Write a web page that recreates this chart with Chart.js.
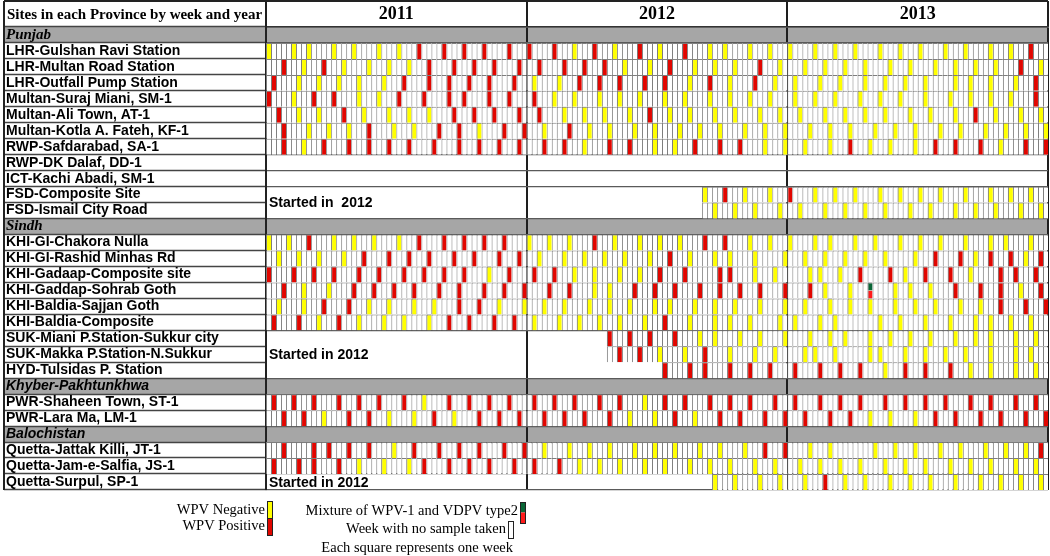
<!DOCTYPE html>
<html>
<head>
<meta charset="utf-8">
<title>Sites in each Province by week and year</title>
<script src="https://cdn.jsdelivr.net/npm/chart.js@4.4.1/dist/chart.umd.min.js"></script>
<style>
  html, body { margin: 0; padding: 0; background: #fff; }
  canvas { display: block; }
</style>
</head>
<body>
<canvas id="sitesChart" width="1050" height="556"></canvas>
<script>
const years = ['2011', '2012', '2013'];
const WEEKS = 52;
const weekLabels = years.flatMap(y => Array.from({ length: WEEKS }, (_, w) => y + '-W' + (w + 1)));

const sites = [
  'Punjab',
  'LHR-Gulshan Ravi Station',
  'LHR-Multan Road Station',
  'LHR-Outfall Pump Station',
  'Multan-Suraj Miani, SM-1',
  'Multan-Ali Town, AT-1',
  'Multan-Kotla A. Fateh, KF-1',
  'RWP-Safdarabad, SA-1',
  'RWP-DK Dalaf, DD-1',
  'ICT-Kachi Abadi, SM-1',
  'FSD-Composite Site',
  'FSD-Ismail City Road',
  'Sindh',
  'KHI-GI-Chakora Nulla',
  'KHI-GI-Rashid Minhas Rd',
  'KHI-Gadaap-Composite site',
  'KHI-Gaddap-Sohrab Goth',
  'KHI-Baldia-Sajjan Goth',
  'KHI-Baldia-Composite',
  'SUK-Miani P.Station-Sukkur city',
  'SUK-Makka P.Station-N.Sukkur',
  'HYD-Tulsidas P. Station',
  'Khyber-Pakhtunkhwa',
  'PWR-Shaheen Town, ST-1',
  'PWR-Lara Ma, LM-1',
  'Balochistan',
  'Quetta-Jattak Killi, JT-1',
  'Quetta-Jam-e-Salfia, JS-1',
  'Quetta-Surpul, SP-1'
];

const provinces = ['Punjab', 'Sindh', 'Khyber-Pakhtunkhwa', 'Balochistan'];

// first sampled week per row: [year index, week index], null = no grid
const sampleStart = [
  null,
  [0, 0], [0, 0], [0, 0], [0, 0], [0, 0], [0, 0], [0, 0],
  null, null,
  [1, 35], [1, 35],
  null,
  [0, 0], [0, 0], [0, 0], [0, 0], [0, 0], [0, 0],
  [1, 16], [1, 16], [1, 27],
  null,
  [0, 0], [0, 0],
  null,
  [0, 0], [0, 0], [1, 37]
];

// week indices (0 = first week of the year) per row, as [2011, 2012, 2013]
const negative = [
  null,
  [[0, 5, 8, 13, 17, 22, 26], [9, 17, 26, 36, 39, 44, 48], [0, 5, 9, 13, 18, 22, 26, 31, 35, 40, 44]],
  [[7, 15, 20, 24, 28], [19, 24, 33, 37, 41, 50], [3, 7, 11, 15, 20, 24, 29, 33, 37, 41, 50]],
  [[6, 10, 14, 18, 23], [1, 6, 32, 40, 49], [1, 6, 10, 15, 19, 23, 27, 33, 36, 40, 45]],
  [[5, 18, 22], [5, 9, 14, 18, 22, 27, 31, 36, 40, 44, 48], [1, 5, 9, 14, 18, 22, 27, 32, 36, 40, 44]],
  [[6, 10, 19, 24, 28, 32], [7, 11, 15, 20, 28, 32, 37, 41, 46, 50], [2, 7, 11, 15, 19, 24, 28, 33, 41, 46, 50]],
  [[8, 12, 16, 25, 29, 42], [3, 12, 16, 21, 25, 30, 34, 38, 43, 47, 51], [4, 8, 12, 17, 21, 25, 30, 34, 39, 43, 47, 51]],
  [[7], [11, 25, 29, 47, 51], [3, 8, 16, 20, 25, 42]],
  null,
  null,
  [[], [35, 43, 48], [5, 9, 13, 18, 22, 26, 30, 35, 40, 44, 48]],
  [[], [37, 41, 45, 50], [2, 7, 11, 15, 19, 24, 28, 33, 37, 41, 46, 50]],
  null,
  [[0, 4, 13, 17, 21, 26], [0, 4, 8, 17, 22, 26, 30, 44, 48], [0, 5, 8, 13, 17, 22, 26, 30, 35, 40, 43, 48]],
  [[2, 6, 10, 15], [2, 7, 11, 15, 19, 24, 32, 37, 40, 45, 51], [3, 7, 11, 15, 19, 25, 37, 47]],
  [[44], [9, 13, 18, 22, 45, 49], [4, 6, 10, 23, 36]],
  [[7, 12], [13, 16], [7, 12, 21, 24, 28, 46]],
  [[2, 7, 20, 24, 29, 33, 46, 51], [3, 7, 12, 16, 20, 25, 28, 33, 37, 41, 46, 51], [3, 8, 12, 16, 21, 25, 29, 34, 38]],
  [[10, 18, 23, 27, 32], [1, 6, 10, 14, 18, 23, 32, 37, 40, 44, 50], [1, 6, 9, 18, 22, 27, 32, 37, 40, 44, 48]],
  [[], [34, 37, 42, 46, 51], [4, 8, 11, 16, 20, 24, 28, 33, 37, 40, 45, 49]],
  [[], [26, 31, 40, 45, 49], [3, 5, 9, 16, 18, 23, 27, 31, 35, 40, 45, 48]],
  [[], [], [19, 36, 40, 45, 49]],
  null,
  [[31], [23], []],
  [[11, 24, 29, 37], [20, 25, 33], [16, 20, 25]],
  null,
  [[25], [3, 8, 12, 16, 21, 25, 29, 34, 38, 43], [4, 8, 17, 21, 25, 30, 34, 39, 43, 47]],
  [[18, 23, 28], [10, 14, 18, 23, 27, 32, 36, 40, 45, 49], [2, 6, 10, 14, 19, 23, 27, 32, 36, 40, 45, 49]],
  [[], [37, 41, 46, 50], [3, 11, 15, 20, 24, 28, 33, 38, 42, 46, 50]]
];

const positive = [
  null,
  [[30, 35, 39, 43, 48], [0, 5, 13, 22, 31], [48]],
  [[3, 11, 32, 37, 41, 45, 50], [2, 7, 11, 15, 28, 46], [46]],
  [[1, 27, 32, 36, 40, 44, 49], [10, 14, 18, 23, 27, 36, 45], [49]],
  [[0, 9, 13, 26, 31, 36, 39, 44, 48], [1], [49]],
  [[2, 15, 37, 41, 45, 50], [2, 24], [37]],
  [[3, 20, 34, 38, 47, 51], [8], []],
  [[3, 11, 16, 20, 24, 28, 33, 38, 42, 46, 50], [3, 7, 16, 20, 33, 38, 42], [12, 29, 33, 38, 47, 51]],
  null,
  null,
  [[], [39], [0]],
  [[], [], []],
  null,
  [[8, 30, 35, 39, 43, 47], [13, 35, 39], []],
  [[19, 24, 28, 32, 37, 41, 46, 50], [28], [29, 34, 40, 44, 50]],
  [[0, 5, 9, 13, 18, 22, 27, 31, 35, 39, 48], [1, 5, 26, 31, 38, 40], [14, 20, 27, 32, 42, 45, 49]],
  [[3, 17, 21, 25, 29, 34, 38, 43, 47, 51], [4, 8, 21, 25, 29, 34, 38, 42, 46, 51], [4, 33, 38, 42, 50]],
  [[11, 16, 38, 42], [], [42, 47, 51]],
  [[1, 6, 14, 36, 40, 45, 49], [27], []],
  [[], [16, 20, 24, 29], []],
  [[], [18, 22, 35], []],
  [[], [27, 32, 35, 40, 44, 48], [1, 6, 10, 14, 23, 27, 32]],
  null,
  [[1, 5, 9, 14, 18, 22, 27, 36, 40, 44, 48], [1, 5, 9, 14, 18, 27, 31, 36, 40, 44, 49], [1, 6, 10, 14, 19, 23, 27, 31, 36, 40, 45, 49]],
  [[3, 7, 16, 20, 33, 42, 46, 50], [3, 7, 11, 16, 29, 38, 42, 47, 51], [3, 8, 12, 29, 33, 38, 42, 47, 51]],
  null,
  [[3, 9, 12, 16, 20, 29, 34, 38, 42, 47, 51], [47, 51], [50]],
  [[1, 6, 9, 14, 31, 36, 40, 44, 49], [1, 6], []],
  [[], [], [7]]
];

// [row, year index, week index]
const mixed = [[16, 2, 16]];

// merged "not started" cells: [text, first row, last row]
const startedNotes = [
  ['Started in  2012', 10, 11],
  ['Started in 2012', 19, 21],
  ['Started in 2012', 28, 28]
];

// row boundaries that carry a full-width rule
const ruledBoundaries = [0, 1, 8, 9, 10, 12, 13, 19, 22, 23, 25, 26, 28, 29];

const weekOf = (yi, w) => weekLabels[yi * WEEKS + w];

function collect(table) {
  const out = [];
  table.forEach((perYear, r) => {
    if (!perYear) return;
    perYear.forEach((weeks, yi) => weeks.forEach(w => out.push({ x: weekOf(yi, w), y: [r, r + 1] })));
  });
  return out;
}

const blankCells = [];
sampleStart.forEach((s, r) => {
  if (!s) return;
  for (let i = s[0] * WEEKS + s[1]; i < weekLabels.length; i++) {
    blankCells.push({ x: weekLabels[i], y: [r, r + 1] });
  }
});

const COLORS = {
  none: '#ffffff',
  neg: '#ffff00',
  pos: '#e10600',
  mixTop: '#0a6636',
  mixBottom: '#ff1a1a',
  line: '#7d7d7d',
  band: '#a6a6a6'
};

// order: higher numbers are painted first, so the blank grid sits underneath
function cells(label, data, fill, order, border) {
  return {
    label, data, order,
    backgroundColor: fill,
    borderColor: COLORS.line,
    borderWidth: border || { top: 1, left: 1, right: 0, bottom: 0 },
    borderSkipped: false,
    inflateAmount: 0,
    grouped: false,
    barPercentage: 1,
    categoryPercentage: 1
  };
}

const datasets = [
  cells('Week with no sample taken', blankCells, COLORS.none, 5),
  cells('WPV Negative', collect(negative), COLORS.neg, 2),
  cells('WPV Positive', collect(positive), COLORS.pos, 2),
  cells('Mixture of WPV-1 and VDPV type2',
    mixed.map(([r, yi, w]) => ({ x: weekOf(yi, w), y: [r, r + 0.5] })), COLORS.mixTop, 1),
  cells('Mixture of WPV-1 and VDPV type2',
    mixed.map(([r, yi, w]) => ({ x: weekOf(yi, w), y: [r + 0.5, r + 1] })), COLORS.mixBottom, 1,
    { top: 0, left: 1, right: 0, bottom: 0 })
];

function swatch(ctx, x, y, w, h, fills) {
  const part = h / fills.length;
  fills.forEach((f, i) => {
    ctx.fillStyle = f;
    ctx.fillRect(x, y + i * part, w, part);
  });
  ctx.strokeStyle = '#222';
  ctx.lineWidth = 1;
  ctx.strokeRect(x + 0.5, y + 0.5, w, h);
}

const tableFrame = {
  id: 'tableFrame',
  beforeDraw(chart) {
    const { ctx, chartArea, scales: { y } } = chart;
    ctx.save();
    ctx.fillStyle = '#fff';
    ctx.fillRect(0, 0, chart.width, chart.height);
    ctx.fillStyle = COLORS.band;
    sites.forEach((s, r) => {
      if (!provinces.includes(s)) return;
      const top = y.getPixelForValue(r);
      const bottom = y.getPixelForValue(r + 1);
      ctx.fillRect(4, top, chartArea.right - 4, bottom - top);
    });
    ctx.restore();
  },
  afterDatasetsDraw(chart) {
    const { ctx, chartArea, scales: { y } } = chart;
    ctx.save();
    ctx.font = 'bold 14px "Liberation Sans"';
    ctx.fillStyle = '#000';
    ctx.textAlign = 'left';
    ctx.textBaseline = 'middle';
    startedNotes.forEach(([text, first, last]) => {
      const mid = (y.getPixelForValue(first) + y.getPixelForValue(last + 1)) / 2;
      ctx.fillText(text, chartArea.left + 3, mid + 1);
    });
    ctx.restore();
  },
  afterDraw(chart) {
    const { ctx, chartArea } = chart;
    const ds = chart.data.datasets;
    ctx.save();
    // outer frame: top and left edges
    ctx.strokeStyle = '#222';
    ctx.lineWidth = 2;
    ctx.beginPath();
    ctx.moveTo(4, 1);
    ctx.lineTo(chartArea.right, 1);
    ctx.moveTo(4, 1);
    ctx.lineTo(4, chartArea.bottom);
    ctx.stroke();

    ctx.fillStyle = '#000';
    ctx.textBaseline = 'middle';
    ctx.textAlign = 'left';
    ctx.font = 'bold 15px "Liberation Serif"';
    ctx.fillText('Sites in each Province by week and year', 7, 15);

    // legend
    ctx.font = '14.5px "Liberation Serif"';
    ctx.textAlign = 'right';
    ctx.fillStyle = '#000';
    ctx.fillText(ds[1].label, 265, 510);
    ctx.fillText(ds[2].label, 265, 526);
    ctx.fillText(ds[3].label, 518, 511);
    ctx.fillText(ds[0].label, 506, 529);
    ctx.fillText('Each square represents one week', 513, 548);
    swatch(ctx, 267, 501, 5, 17, [ds[1].backgroundColor]);
    swatch(ctx, 267, 518, 5, 17, [ds[2].backgroundColor]);
    swatch(ctx, 520, 502, 5, 21, [ds[3].backgroundColor, ds[4].backgroundColor]);
    swatch(ctx, 508, 521, 5, 17, [ds[0].backgroundColor]);
    ctx.restore();
  }
};

new Chart(document.getElementById('sitesChart'), {
  type: 'bar',
  data: { labels: weekLabels, datasets },
  options: {
    responsive: false,
    devicePixelRatio: 1,
    animation: false,
    layout: { padding: { left: 6, right: 2, top: 1, bottom: 66 } },
    plugins: { legend: { display: false }, tooltip: { enabled: false } },
    scales: {
      x: { type: 'category', display: false },
      x2: {
        type: 'category',
        position: 'top',
        labels: years,
        offset: true,
        z: 1,
        grid: { offset: true, color: '#1e1e1e', lineWidth: 2, drawTicks: true, tickLength: 26 },
        border: { display: true, color: '#333', width: 1.5 },
        ticks: {
          padding: -24,
          maxRotation: 0,
          color: '#000',
          font: { family: 'Liberation Serif', size: 18, weight: 'bold' }
        },
        afterFit(s) { s.height = 26; s.paddingLeft = 0; s.paddingRight = 0; }
      },
      y: {
        type: 'linear',
        min: 0,
        max: sites.length,
        reverse: true,
        afterBuildTicks(s) { s.ticks = sites.map((_, i) => ({ value: i + 0.5 })); },
        afterFit(s) { s.width = 260; s.paddingTop = 0; s.paddingBottom = 0; },
        border: { display: true, color: '#222', width: 2 },
        grid: {
          offset: true,
          drawTicks: true,
          tickLength: 262,
          tickColor: '#444',
          tickWidth: 1.5,
          lineWidth: 1.2,
          color: ctx => ruledBoundaries.includes(ctx.type === 'tick' ? ctx.index : sites.length) ? '#5a5a5a' : 'rgba(0,0,0,0)'
        },
        ticks: {
          autoSkip: false,
          crossAlign: 'far',
          color: '#000',
          callback: (v, i) => sites[i],
          font: ctx => {
            const name = sites[ctx.index];
            if (name === 'Punjab' || name === 'Sindh') {
              return { family: 'Liberation Serif', size: 15, weight: 'bold', style: 'italic' };
            }
            if (provinces.includes(name)) {
              return { family: 'Liberation Sans', size: 14, weight: 'bold', style: 'italic' };
            }
            return { family: 'Liberation Sans', size: 14, weight: 'bold' };
          }
        }
      }
    }
  },
  plugins: [tableFrame]
});
</script>
</body>
</html>
